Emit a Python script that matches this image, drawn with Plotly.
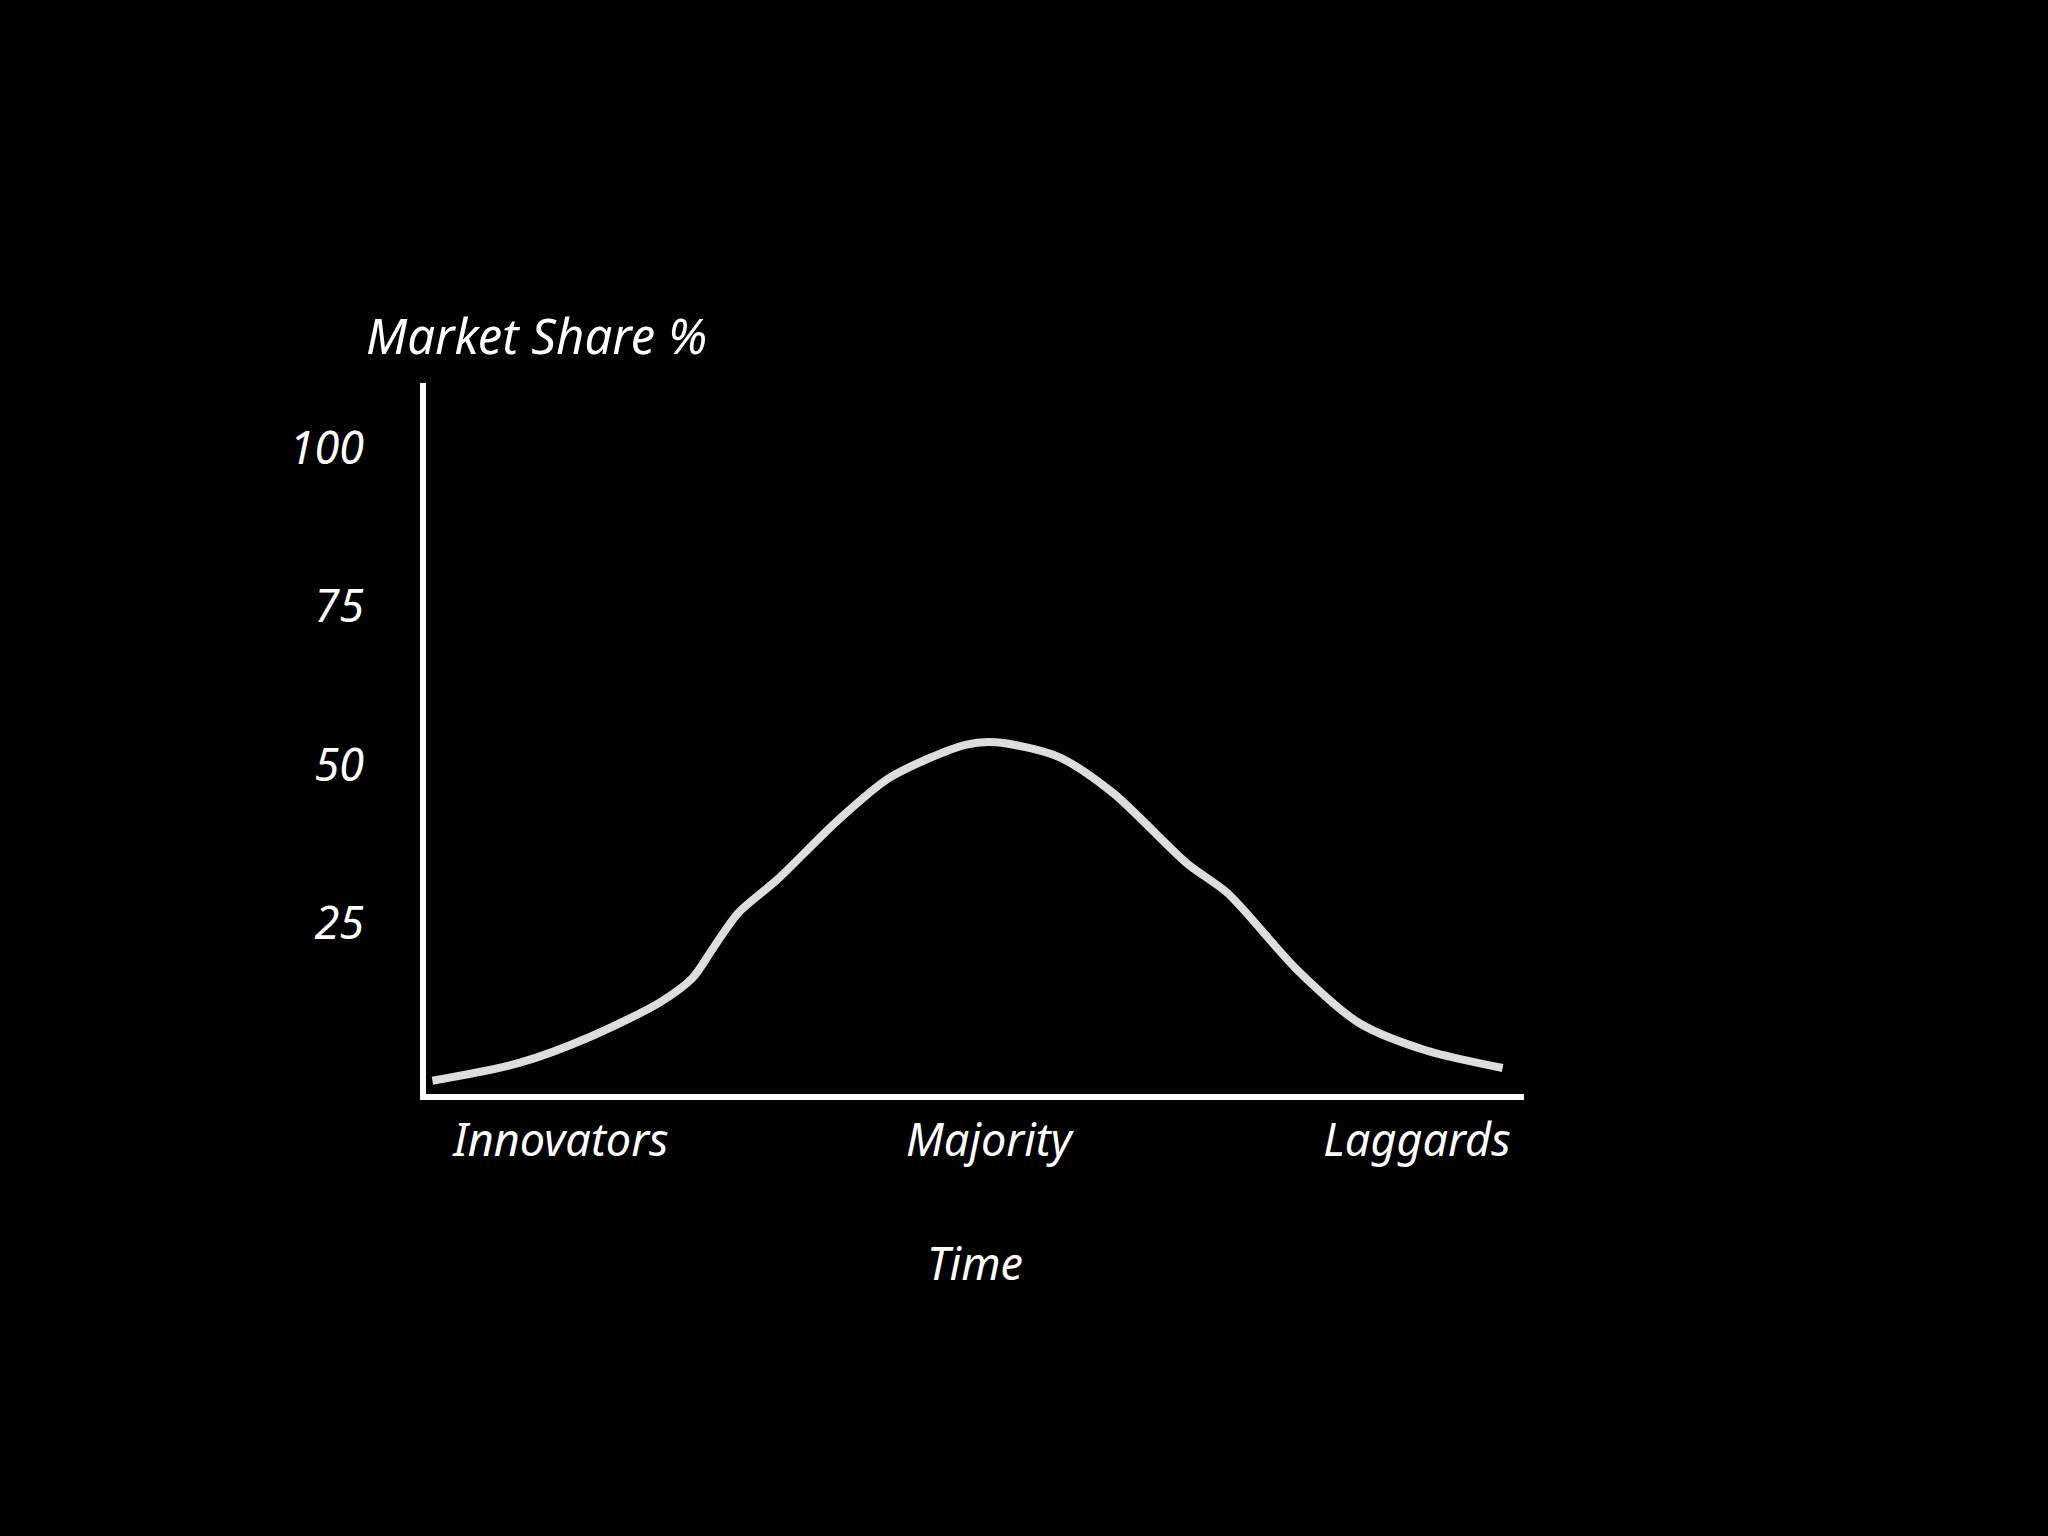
import plotly.graph_objects as go

# Data
time_x = [0.0, 0.81, 1.47, 2.13, 2.43, 2.63, 2.86, 3.22, 3.79, 4.28, 4.98, 5.27,
          5.85, 6.36, 7.05, 7.43, 8.08, 8.66, 9.28, 10.0]
market_share = [0.2, 3.0, 7.1, 12.6, 16.4, 21.3, 26.7, 31.9, 41.3, 48.1, 53.2, 53.6,
                51.3, 45.6, 34.5, 29.8, 17.7, 9.3, 5.0, 2.2]
x_tick_vals = [1.2, 5.2, 9.2]
x_tick_text = ["Innovators", "Majority", "Laggards"]
y_tick_vals = [25, 50, 75, 100]
y_tick_text = ["25", "50", "75", "100"]

FONT = "Noto Sans"
fig = go.Figure()
fig.add_trace(go.Scatter(
    x=time_x, y=market_share, mode="lines",
    line=dict(color="#dddddd", width=8, shape="spline", smoothing=0.8),
    showlegend=False, hoverinfo="skip",
))

fig.update_layout(
    width=2048, height=1536,
    paper_bgcolor="black", plot_bgcolor="black",
    margin=dict(l=426, r=524, t=383, b=442),
    font=dict(family=FONT, color="white", size=45, style="italic"),
    xaxis=dict(
        range=[-0.06, 10.2], showgrid=False, zeroline=False,
        showline=True, linecolor="white", linewidth=6,
        tickmode="array", tickvals=x_tick_vals, ticktext=x_tick_text,
        ticks="", ticklabelstandoff=2,
        tickfont=dict(family=FONT, size=45, color="white", style="italic"),
        title=dict(text="Time", standoff=82,
                   font=dict(family=FONT, size=45, color="white", style="italic")),
    ),
    yaxis=dict(
        range=[-1.9, 110.3], showgrid=False, zeroline=False,
        showline=True, linecolor="white", linewidth=6,
        tickmode="array", tickvals=y_tick_vals, ticktext=y_tick_text,
        ticks="", ticklabelstandoff=47,
        tickfont=dict(family=FONT, size=45, color="white", style="italic"),
    ),
    annotations=[dict(
        text="Market Share %", xref="paper", yref="paper",
        x=(536 - 426) / (2048 - 426 - 524), y=1.0, yshift=48,
        xanchor="center", yanchor="middle",
        showarrow=False,
        font=dict(family=FONT, size=49, color="white", style="italic"),
    )],
)

fig.write_html(
    "out.html",
    config={"displayModeBar": False},
    post_script="document.body.style.margin='0';document.body.style.background='black';",
)
